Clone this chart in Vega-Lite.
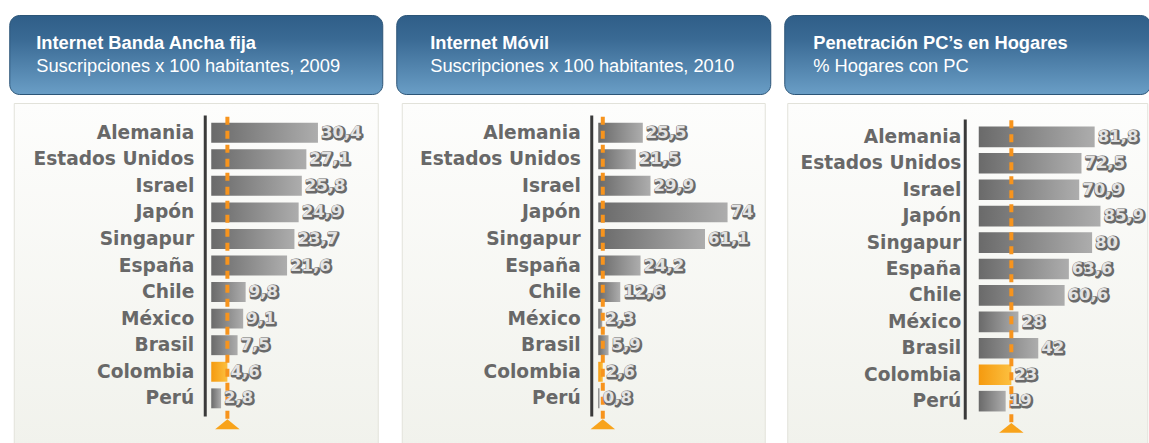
{
  "$schema": "https://vega.github.io/schema/vega-lite/v6.json",
  "padding": {"left": 8, "top": 14, "right": 0, "bottom": 0},
  "background": "white",
  "datasets": {
    "datos": [
      {"ind": "banda", "pais": "Alemania", "v": 30.4},
      {"ind": "banda", "pais": "Estados Unidos", "v": 27.1},
      {"ind": "banda", "pais": "Israel", "v": 25.8},
      {"ind": "banda", "pais": "Japón", "v": 24.9},
      {"ind": "banda", "pais": "Singapur", "v": 23.7},
      {"ind": "banda", "pais": "España", "v": 21.6},
      {"ind": "banda", "pais": "Chile", "v": 9.8},
      {"ind": "banda", "pais": "México", "v": 9.1},
      {"ind": "banda", "pais": "Brasil", "v": 7.5},
      {"ind": "banda", "pais": "Colombia", "v": 4.6},
      {"ind": "banda", "pais": "Perú", "v": 2.8},
      {"ind": "movil", "pais": "Alemania", "v": 25.5},
      {"ind": "movil", "pais": "Estados Unidos", "v": 21.5},
      {"ind": "movil", "pais": "Israel", "v": 29.9},
      {"ind": "movil", "pais": "Japón", "v": 74},
      {"ind": "movil", "pais": "Singapur", "v": 61.1},
      {"ind": "movil", "pais": "España", "v": 24.2},
      {"ind": "movil", "pais": "Chile", "v": 12.6},
      {"ind": "movil", "pais": "México", "v": 2.3},
      {"ind": "movil", "pais": "Brasil", "v": 5.9},
      {"ind": "movil", "pais": "Colombia", "v": 2.6},
      {"ind": "movil", "pais": "Perú", "v": 0.8},
      {"ind": "pc", "pais": "Alemania", "v": 81.8},
      {"ind": "pc", "pais": "Estados Unidos", "v": 72.5},
      {"ind": "pc", "pais": "Israel", "v": 70.9},
      {"ind": "pc", "pais": "Japón", "v": 85.9},
      {"ind": "pc", "pais": "Singapur", "v": 80},
      {"ind": "pc", "pais": "España", "v": 63.6},
      {"ind": "pc", "pais": "Chile", "v": 60.6},
      {"ind": "pc", "pais": "México", "v": 28},
      {"ind": "pc", "pais": "Brasil", "v": 42},
      {"ind": "pc", "pais": "Colombia", "v": 23},
      {"ind": "pc", "pais": "Perú", "v": 19}
    ]
  },
  "spacing": 12,
  "hconcat": [
    {
      "vconcat": [
        {
          "width": 373, "height": 79,
          "data": {"values": [{}]},
          "view": {"cornerRadius": 10, "stroke": "#2c5577", "fill": {"gradient": "linear", "x1": 0, "y1": 0, "x2": 0, "y2": 1, "stops": [{"offset": 0, "color": "#2f5e88"}, {"offset": 0.3, "color": "#3a6a94"}, {"offset": 1, "color": "#6a9ec6"}]}},
          "title": {"text": "Internet Banda Ancha fija", "subtitle": "Suscripciones x 100 habitantes, 2009", "anchor": "start", "frame": "group", "orient": "top", "offset": -61, "dx": 27, "font": "Liberation Sans", "fontSize": 18.3, "fontWeight": "bold", "color": "white", "subtitleFont": "Liberation Sans", "subtitleFontSize": 18.3, "subtitleFontWeight": "normal", "subtitleColor": "white", "subtitlePadding": 4},
          "mark": {"type": "text"},
          "encoding": {"text": {"value": ""}}
        },
        {
          "width": 364, "height": 343,
          "view": {"stroke": "#e2e2da", "fill": {"gradient": "linear", "x1": 0, "y1": 0, "x2": 0, "y2": 1, "stops": [{"offset": 0, "color": "#fdfdfc"}, {"offset": 1, "color": "#f1f2ec"}]}},
          "data": {"name": "datos"},
          "transform": [{"filter": "datum.ind === 'banda'"}],
          "encoding": {
            "y": {"field": "pais", "type": "nominal", "scale": {"domain": ["Alemania", "Estados Unidos", "Israel", "Japón", "Singapur", "España", "Chile", "México", "Brasil", "Colombia", "Perú"], "range": [12, 313], "paddingInner": 0.25, "paddingOuter": 0.29}, "axis": {"title": null, "ticks": false, "tickSize": 0, "grid": false, "domainColor": "#3a3a3a", "domainWidth": 3, "offset": -191, "labelPadding": 11, "labelFont": "DejaVu Sans", "labelFontSize": 18.6, "labelFontWeight": "bold", "labelColor": "#686868", "labelLimit": 400}},
            "x": {"field": "v", "type": "quantitative", "scale": {"domain": [0, 40], "range": [197.5, 337.9], "nice": false}, "axis": null}
          },
          "layer": [
            {"transform": [{"filter": "datum.pais !== 'Colombia'"}], "mark": {"type": "bar", "fill": {"gradient": "linear", "x1": 0, "y1": 0, "x2": 1, "y2": 0, "stops": [{"offset": 0, "color": "#6a6a6a"}, {"offset": 1, "color": "#adadad"}]}}},
            {"transform": [{"filter": "datum.pais === 'Colombia'"}], "mark": {"type": "bar", "fill": {"gradient": "linear", "x1": 0, "y1": 0, "x2": 1, "y2": 0, "stops": [{"offset": 0, "color": "#f59a0f"}, {"offset": 1, "color": "#fcc040"}]}}},
            {"transform": [{"filter": "datum.pais === 'Colombia'"}], "mark": {"type": "rule", "color": "#f7941d", "strokeWidth": 4, "strokeDash": [8, 6]}, "encoding": {"y": {"datum": "Alemania", "type": "nominal", "bandPosition": -0.3}, "y2": {"datum": "Perú", "bandPosition": 1.6}}},
            {"transform": [{"filter": "datum.pais === 'Colombia'"}], "mark": {"type": "point", "shape": "M-1,0.4L0,-0.4L1,0.4Z", "size": 600, "filled": true, "fill": "#f8a31b", "opacity": 1, "strokeWidth": 0}, "encoding": {"y": {"datum": "Perú", "type": "nominal", "bandPosition": 1.8}}},
            {"mark": {"type": "text", "align": "left", "baseline": "middle", "dx": 4, "dy": 1, "font": "DejaVu Sans", "fontSize": 16.5, "fontWeight": "bold", "fill": "#6a6a6a", "stroke": "#6a6a6a", "strokeWidth": 3, "strokeJoin": "round"}, "encoding": {"text": {"field": "v", "type": "quantitative", "format": "~g"}}},
            {"mark": {"type": "text", "align": "left", "baseline": "middle", "dx": 3, "font": "DejaVu Sans", "fontSize": 16.5, "fontWeight": "bold", "fill": "#e4e4e4"}, "encoding": {"text": {"field": "v", "type": "quantitative", "format": "~g"}}}
          ]
        }
      ],
      "spacing": 7,
      "center": true
    },
    {
      "vconcat": [
        {
          "width": 374, "height": 79,
          "data": {"values": [{}]},
          "view": {"cornerRadius": 10, "stroke": "#2c5577", "fill": {"gradient": "linear", "x1": 0, "y1": 0, "x2": 0, "y2": 1, "stops": [{"offset": 0, "color": "#2f5e88"}, {"offset": 0.3, "color": "#3a6a94"}, {"offset": 1, "color": "#6a9ec6"}]}},
          "title": {"text": "Internet Móvil", "subtitle": "Suscripciones x 100 habitantes, 2010", "anchor": "start", "frame": "group", "orient": "top", "offset": -61, "dx": 34, "font": "Liberation Sans", "fontSize": 18.3, "fontWeight": "bold", "color": "white", "subtitleFont": "Liberation Sans", "subtitleFontSize": 18.3, "subtitleFontWeight": "normal", "subtitleColor": "white", "subtitlePadding": 4},
          "mark": {"type": "text"},
          "encoding": {"text": {"value": ""}}
        },
        {
          "width": 363, "height": 343,
          "view": {"stroke": "#e2e2da", "fill": {"gradient": "linear", "x1": 0, "y1": 0, "x2": 0, "y2": 1, "stops": [{"offset": 0, "color": "#fdfdfc"}, {"offset": 1, "color": "#f1f2ec"}]}},
          "data": {"name": "datos"},
          "transform": [{"filter": "datum.ind === 'movil'"}],
          "encoding": {
            "y": {"field": "pais", "type": "nominal", "scale": {"domain": ["Alemania", "Estados Unidos", "Israel", "Japón", "Singapur", "España", "Chile", "México", "Brasil", "Colombia", "Perú"], "range": [12, 313], "paddingInner": 0.25, "paddingOuter": 0.29}, "axis": {"title": null, "ticks": false, "tickSize": 0, "grid": false, "domainColor": "#3a3a3a", "domainWidth": 3, "offset": -189.5, "labelPadding": 11, "labelFont": "DejaVu Sans", "labelFontSize": 18.6, "labelFontWeight": "bold", "labelColor": "#686868", "labelLimit": 400}},
            "x": {"field": "v", "type": "quantitative", "scale": {"domain": [0, 80], "range": [196.5, 336.3], "nice": false}, "axis": null}
          },
          "layer": [
            {"transform": [{"filter": "datum.pais !== 'Colombia'"}], "mark": {"type": "bar", "fill": {"gradient": "linear", "x1": 0, "y1": 0, "x2": 1, "y2": 0, "stops": [{"offset": 0, "color": "#6a6a6a"}, {"offset": 1, "color": "#adadad"}]}}},
            {"transform": [{"filter": "datum.pais === 'Colombia'"}], "mark": {"type": "bar", "fill": {"gradient": "linear", "x1": 0, "y1": 0, "x2": 1, "y2": 0, "stops": [{"offset": 0, "color": "#f59a0f"}, {"offset": 1, "color": "#fcc040"}]}}},
            {"transform": [{"filter": "datum.pais === 'Colombia'"}], "mark": {"type": "rule", "color": "#f7941d", "strokeWidth": 4, "strokeDash": [8, 6]}, "encoding": {"y": {"datum": "Alemania", "type": "nominal", "bandPosition": -0.3}, "y2": {"datum": "Perú", "bandPosition": 1.6}}},
            {"transform": [{"filter": "datum.pais === 'Colombia'"}], "mark": {"type": "point", "shape": "M-1,0.4L0,-0.4L1,0.4Z", "size": 600, "filled": true, "fill": "#f8a31b", "opacity": 1, "strokeWidth": 0}, "encoding": {"y": {"datum": "Perú", "type": "nominal", "bandPosition": 1.8}}},
            {"mark": {"type": "text", "align": "left", "baseline": "middle", "dx": 4, "dy": 1, "font": "DejaVu Sans", "fontSize": 16.5, "fontWeight": "bold", "fill": "#6a6a6a", "stroke": "#6a6a6a", "strokeWidth": 3, "strokeJoin": "round"}, "encoding": {"text": {"field": "v", "type": "quantitative", "format": "~g"}}},
            {"mark": {"type": "text", "align": "left", "baseline": "middle", "dx": 3, "font": "DejaVu Sans", "fontSize": 16.5, "fontWeight": "bold", "fill": "#e4e4e4"}, "encoding": {"text": {"field": "v", "type": "quantitative", "format": "~g"}}}
          ]
        }
      ],
      "spacing": 7,
      "center": true
    },
    {
      "vconcat": [
        {
          "width": 366, "height": 79,
          "data": {"values": [{}]},
          "view": {"cornerRadius": 10, "stroke": "#2c5577", "fill": {"gradient": "linear", "x1": 0, "y1": 0, "x2": 0, "y2": 1, "stops": [{"offset": 0, "color": "#2f5e88"}, {"offset": 0.3, "color": "#3a6a94"}, {"offset": 1, "color": "#6a9ec6"}]}},
          "title": {"text": "Penetración PC’s en Hogares", "subtitle": "% Hogares con PC", "anchor": "start", "frame": "group", "orient": "top", "offset": -61, "dx": 29, "font": "Liberation Sans", "fontSize": 18.3, "fontWeight": "bold", "color": "white", "subtitleFont": "Liberation Sans", "subtitleFontSize": 18.3, "subtitleFontWeight": "normal", "subtitleColor": "white", "subtitlePadding": 4},
          "mark": {"type": "text"},
          "encoding": {"text": {"value": ""}}
        },
        {
          "width": 360, "height": 343,
          "view": {"stroke": "#e2e2da", "fill": {"gradient": "linear", "x1": 0, "y1": 0, "x2": 0, "y2": 1, "stops": [{"offset": 0, "color": "#fdfdfc"}, {"offset": 1, "color": "#f1f2ec"}]}},
          "data": {"name": "datos"},
          "transform": [{"filter": "datum.ind === 'pc'"}],
          "encoding": {
            "y": {"field": "pais", "type": "nominal", "scale": {"domain": ["Alemania", "Estados Unidos", "Israel", "Japón", "Singapur", "España", "Chile", "México", "Brasil", "Colombia", "Perú"], "range": [16, 316], "paddingInner": 0.22, "paddingOuter": 0.285}, "axis": {"title": null, "ticks": false, "tickSize": 0, "grid": false, "domainColor": "#3a3a3a", "domainWidth": 3, "offset": -177.5, "labelPadding": 4, "labelFont": "DejaVu Sans", "labelFontSize": 18.6, "labelFontWeight": "bold", "labelColor": "#686868", "labelLimit": 400}},
            "x": {"field": "v", "type": "quantitative", "scale": {"domain": [0, 100], "range": [191.5, 333.2], "nice": false}, "axis": null}
          },
          "layer": [
            {"transform": [{"filter": "datum.pais !== 'Colombia'"}], "mark": {"type": "bar", "fill": {"gradient": "linear", "x1": 0, "y1": 0, "x2": 1, "y2": 0, "stops": [{"offset": 0, "color": "#6a6a6a"}, {"offset": 1, "color": "#adadad"}]}}},
            {"transform": [{"filter": "datum.pais === 'Colombia'"}], "mark": {"type": "bar", "fill": {"gradient": "linear", "x1": 0, "y1": 0, "x2": 1, "y2": 0, "stops": [{"offset": 0, "color": "#f59a0f"}, {"offset": 1, "color": "#fcc040"}]}}},
            {"transform": [{"filter": "datum.pais === 'Colombia'"}], "mark": {"type": "rule", "color": "#f7941d", "strokeWidth": 4, "strokeDash": [8, 6]}, "encoding": {"y": {"datum": "Alemania", "type": "nominal", "bandPosition": -0.3}, "y2": {"datum": "Perú", "bandPosition": 1.6}}},
            {"transform": [{"filter": "datum.pais === 'Colombia'"}], "mark": {"type": "point", "shape": "M-1,0.4L0,-0.4L1,0.4Z", "size": 600, "filled": true, "fill": "#f8a31b", "opacity": 1, "strokeWidth": 0}, "encoding": {"y": {"datum": "Perú", "type": "nominal", "bandPosition": 1.8}}},
            {"mark": {"type": "text", "align": "left", "baseline": "middle", "dx": 4, "dy": 1, "font": "DejaVu Sans", "fontSize": 16.5, "fontWeight": "bold", "fill": "#6a6a6a", "stroke": "#6a6a6a", "strokeWidth": 3, "strokeJoin": "round"}, "encoding": {"text": {"field": "v", "type": "quantitative", "format": "~g"}}},
            {"mark": {"type": "text", "align": "left", "baseline": "middle", "dx": 3, "font": "DejaVu Sans", "fontSize": 16.5, "fontWeight": "bold", "fill": "#e4e4e4"}, "encoding": {"text": {"field": "v", "type": "quantitative", "format": "~g"}}}
          ]
        }
      ],
      "spacing": 7,
      "center": true
    }
  ],
  "config": {
    "locale": {"number": {"decimal": ",", "thousands": ".", "grouping": [3], "currency": ["", " €"]}}
  }
}
